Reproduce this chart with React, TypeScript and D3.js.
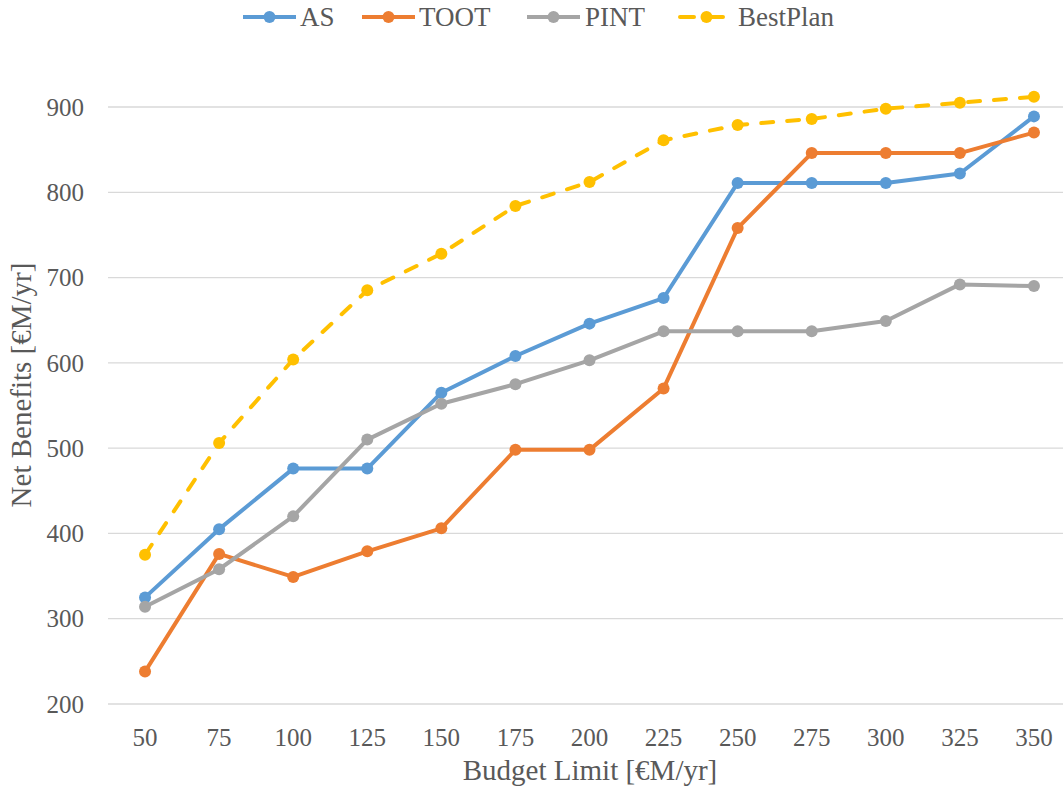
import React from "react";
import * as d3 from "d3";

const categories = ["50", "75", "100", "125", "150", "175", "200", "225", "250", "275", "300", "325", "350"];
const asValues = [325, 405, 476, 476, 565, 608, 646, 676, 811, 811, 811, 822, 889];
const tootValues = [238, 376, 349, 379, 406, 498, 498, 570, 758, 846, 846, 846, 870];
const pintValues = [314, 358, 420, 510, 552, 575, 603, 637, 637, 637, 649, 692, 690];
const bestPlanValues = [375, 506, 604, 685, 728, 784, 812, 861, 879, 886, 898, 905, 912];
const yTicks = [200, 300, 400, 500, 600, 700, 800, 900];

const seriesNames = ["AS", "TOOT", "PINT", "BestPlan"];
const seriesColors = ["#5B9BD5", "#ED7D31", "#A5A5A5", "#FFC000"];
const seriesData = [asValues, tootValues, pintValues, bestPlanValues];
const seriesDashed = [false, false, false, true];

const W = 1063;
const H = 789;
const FONT = "Liberation Serif";
const TEXT = "#595959";

export default function App() {
  const plotLeft = 108;
  const plotRight = 1071;
  const x = d3.scaleBand<string>().domain(categories).range([plotLeft, plotRight]).padding(0);
  const y = d3.scaleLinear().domain([200, 900]).range([704, 107]);
  const cx = (c: string) => (x(c) as number) + x.bandwidth() / 2;
  const line = d3
    .line<number>()
    .x((_, i) => cx(categories[i]))
    .y((v) => y(v));

  const legendItems = [
    { x: 243, tx: 300 },
    { x: 362, tx: 419 },
    { x: 527, tx: 585 },
    { x: 680, tx: 738 },
  ];
  const textStyle = { fontFamily: FONT, fill: TEXT } as React.CSSProperties;

  return (
    <svg width={W} height={H} style={{ position: "absolute", left: 0, top: 0, background: "#fff" }}>
      <rect x={0} y={0} width={W} height={H} fill="#fff" />
      {yTicks.map((t) => (
        <g key={t}>
          <line x1={plotLeft} x2={W} y1={y(t)} y2={y(t)} stroke="#D9D9D9" strokeWidth={1.3} />
          <text x={84} y={y(t)} dy="0.35em" textAnchor="end" fontSize={25} style={textStyle}>
            {t}
          </text>
        </g>
      ))}
      {categories.map((c) => (
        <text key={c} x={cx(c)} y={746} textAnchor="middle" fontSize={25} style={textStyle}>
          {c}
        </text>
      ))}
      <text x={590} y={780} textAnchor="middle" fontSize={29} style={textStyle}>
        Budget Limit [€M/yr]
      </text>
      <text transform={`translate(31, 385) rotate(-90)`} textAnchor="middle" fontSize={29} style={textStyle}>
        Net Benefits [€M/yr]
      </text>
      {seriesData.map((vals, si) => (
        <g key={seriesNames[si]}>
          <path
            d={line(vals) || ""}
            fill="none"
            stroke={seriesColors[si]}
            strokeWidth={4}
            strokeLinejoin="round"
            strokeLinecap={seriesDashed[si] ? "round" : "butt"}
            strokeDasharray={seriesDashed[si] ? "12 14" : undefined}
          />
          {vals.map((v, i) => (
            <circle key={i} cx={cx(categories[i])} cy={y(v)} r={6} fill={seriesColors[si]} />
          ))}
        </g>
      ))}
      {seriesNames.map((n, si) => (
        <g key={n}>
          <line
            x1={legendItems[si].x}
            x2={legendItems[si].x + 53}
            y1={17}
            y2={17}
            stroke={seriesColors[si]}
            strokeWidth={4}
            strokeLinecap={seriesDashed[si] ? "round" : "butt"}
            strokeDasharray={seriesDashed[si] ? "14 15" : undefined}
          />
          <circle cx={legendItems[si].x + 26.5} cy={17} r={6} fill={seriesColors[si]} />
          <text x={legendItems[si].tx} y={17} dy="0.35em" fontSize={27} style={textStyle}>
            {n}
          </text>
        </g>
      ))}
    </svg>
  );
}
